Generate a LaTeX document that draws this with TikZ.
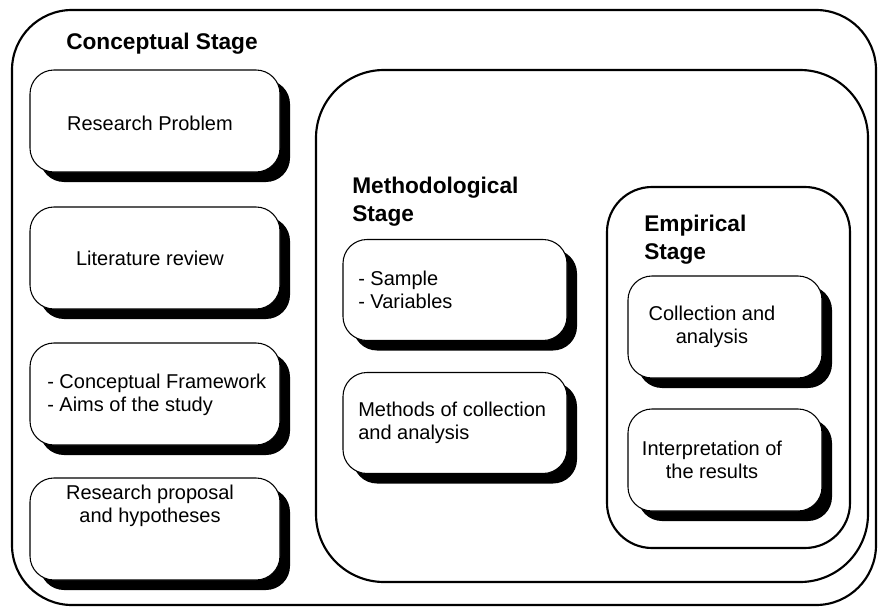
\documentclass[tikz,border=0pt]{standalone}
\usepackage{fontspec}
\setmainfont{Liberation Sans}
\usetikzlibrary{shadows}
\begin{document}
\begin{tikzpicture}[x=0.75pt,y=-0.75pt,
  frame/.style={draw=black, line width=1.6pt, fill=white, rectangle, inner sep=0pt},
  card/.style={draw=black, line width=0.8pt, fill=white, rectangle, inner sep=0pt,
    rounded corners=18pt,
    drop shadow={shadow xshift=7.5pt, shadow yshift=-7.5pt, fill=black, opacity=1}},
  leftcard/.style={card, minimum width=187.5pt, minimum height=76.5pt},
  midcard/.style={card, minimum width=168pt, minimum height=75.75pt},
  empcard/.style={card, minimum width=145.5pt, minimum height=76.5pt},
  heading/.style={font=\fontsize{17}{21}\selectfont\bfseries, align=left, anchor=west, inner sep=0pt},
  body/.style={font=\fontsize{15}{17.5}\selectfont, inner sep=0pt},
  bodyleft/.style={body, align=left, anchor=west},
  bodymid/.style={body, align=center}
]
\useasboundingbox (0,0) rectangle (879,610);

% stage frames
\node[frame, rounded corners=45pt, minimum width=648pt, minimum height=446.25pt] (outer) at (444,307.5) {};
\node[frame, rounded corners=51pt, minimum width=414pt, minimum height=384pt] (method) at (592,326) {};
\node[frame, rounded corners=33.75pt, minimum width=182.25pt, minimum height=270.75pt] (empir) at (728.5,367.5) {};

% conceptual stage
\node[heading] (concT) at (66,44) {Conceptual Stage};
\node[leftcard] (c1) at (155,121) {};
\node[leftcard] (c2) at (155,258) {};
\node[leftcard] (c3) at (155,394) {};
\node[leftcard] (c4) at (155,529) {};
\node[bodymid] (c1t) at (150,123) {Research Problem};
\node[bodymid] (c2t) at (150,258) {Literature review};
\node[bodyleft] (c3t) at (47,395) {- Conceptual Framework\\- Aims of the study};
\node[bodymid] (c4t) at (150,506) {Research proposal\\and hypotheses};

% methodological stage
\node[heading] (methT) at (352,202) {Methodological\\Stage};
\node[midcard] (m1) at (455,290) {};
\node[midcard] (m2) at (455,423) {};
\node[bodyleft] (m1t) at (358,290) {- Sample\\- Variables};
\node[bodyleft] (m2t) at (358,423) {Methods of collection\\and analysis};

% empirical stage
\node[heading] (empT) at (644,240) {Empirical\\Stage};
\node[empcard] (e1) at (725,327) {};
\node[empcard] (e2) at (725,460) {};
\node[bodymid] (e1t) at (712,327) {Collection and\\analysis};
\node[bodymid] (e2t) at (712,460) {Interpretation of\\the results};
\end{tikzpicture}
\end{document}
